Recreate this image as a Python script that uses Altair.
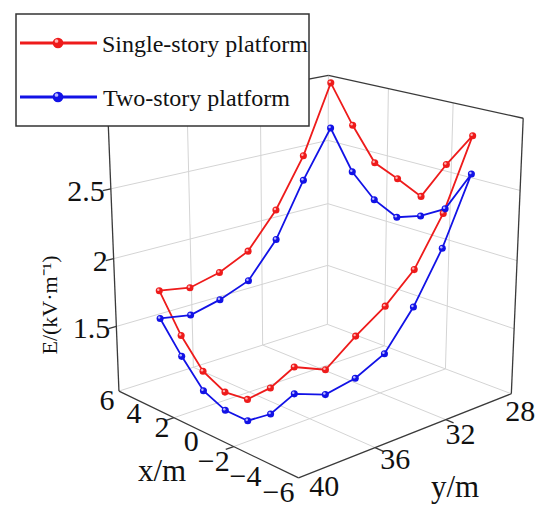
import numpy as np
import pandas as pd
import altair as alt

# ---------------- data ----------------
series_names = ["Single-story platform", "Two-story platform"]
# measurement path (closed loop around the platform), metres
path_x = [3.17, 3.17, 3.17, 3.17, 3.17, 3.17,
          3.17, 1.73, 0.30, -1.13, -2.57, -4.00,
          -5.43, -5.43, -5.43, -5.43, -5.43, -5.43,
          -5.43, -4.00, -2.57, -1.13, 0.30, 1.73]
path_y = [39.72, 38.16, 36.60, 35.04, 33.48, 31.92,
          30.35, 30.35, 30.35, 30.35, 30.35, 30.35,
          30.35, 31.91, 33.47, 35.03, 36.59, 38.15,
          39.72, 39.72, 39.72, 39.72, 39.72, 39.72]
E_single = [1.87, 1.83, 1.88, 1.98, 2.23, 2.58, 3.07, 2.80, 2.57, 2.50, 2.42, 2.69,
            2.93, 2.45, 2.12, 1.93, 1.79, 1.63, 1.72, 1.51, 1.36, 1.34, 1.42, 1.61]
E_two = [1.67, 1.63, 1.68, 1.76, 2.01, 2.40, 2.74, 2.46, 2.30, 2.22, 2.28, 2.38,
         2.67, 2.21, 1.86, 1.60, 1.50, 1.46, 1.54, 1.33, 1.21, 1.21, 1.28, 1.46]

x_ticks = [6, 4, 2, 0, -2, -4, -6]
y_ticks = [28, 32, 36, 40]
z_ticks = [1.5, 2, 2.5]
x_grid = [2, -2]
y_grid = [32, 36]
z_grid = [1.5, 2, 2.5]
x_lim = [-6, 6]
y_lim = [28, 40]
z_lim = [1.01, 3.0]

# ---------------- view (perspective camera) ----------------
P0 = [-0.32051, -0.37703, -0.00079, 0.05113]
P1 = [-0.11809, 0.11424, -0.47311, -0.13968]
P2 = [0.04126, -0.03930, -0.01968, 0.69176]

RED = "#ee1b1b"
BLUE = "#1212e6"
RED_HI = "#ffb3b3"
BLUE_HI = "#b8b8ff"
DARK = "#3a3a3a"
GRID = "#d4d4d4"
FONT = "Liberation Serif"


def proj(xe, ye, ze):
    a = f"(({xe})/6)"
    b = f"((({ye})-34)/6)"
    c = f"(({ze})-2)"

    def row(p):
        return f"({p[0]}*{a}+({p[1]})*{b}+({p[2]})*{c}+({p[3]}))"
    w = row(P2)
    return f"300+200*{row(P0)}/{w}", f"300+200*{row(P1)}/{w}"


XS = alt.Scale(domain=[8, 542], nice=False, zero=False)
YS = alt.Scale(domain=[8, 516], nice=False, zero=False, reverse=True)


def X(f):
    return alt.X(f, type="quantitative", scale=XS, axis=None)


def Y(f):
    return alt.Y(f, type="quantitative", scale=YS, axis=None)


def X2(f):
    return alt.X2(f)


def Y2(f):
    return alt.Y2(f)


# ---------------- segments: grid, box edges, ticks ----------------
xmin, xmax = x_lim
ymin, ymax = y_lim
zmin, zmax = z_lim
segs = []  # x0,y0,z0,x1,y1,z1,kind
for z in z_grid:
    segs.append((xmax, ymax, z, xmax, ymin, z, "grid"))
    segs.append((xmax, ymin, z, xmin, ymin, z, "grid"))
for y in y_grid:
    segs.append((xmax, y, zmin, xmax, y, zmax, "grid"))
    segs.append((xmax, y, zmin, xmin, y, zmin, "grid"))
for x in x_grid:
    segs.append((x, ymin, zmin, x, ymin, zmax, "grid"))
    segs.append((x, ymax, zmin, x, ymin, zmin, "grid"))
segs.append((xmax, ymin, zmin, xmax, ymin, zmax, "grid"))
segs.append((xmax, ymax, zmin, xmax, ymin, zmin, "grid"))
segs.append((xmax, ymin, zmin, xmin, ymin, zmin, "grid"))
# dark box edges
segs.append((xmax, ymax, zmin, xmax, ymax, zmax, "edge"))
segs.append((xmin, ymin, zmin, xmin, ymin, zmax, "edge"))
segs.append((xmax, ymax, zmax, xmax, ymin, zmax, "edge"))
segs.append((xmax, ymin, zmax, xmin, ymin, zmax, "edge"))
segs.append((xmax, ymax, zmin, xmin, ymax, zmin, "edge"))
segs.append((xmin, ymax, zmin, xmin, ymin, zmin, "edge"))
# ticks
for x in x_grid:
    segs.append((x, ymax, zmin, x, ymax + 0.4, zmin, "edge"))
for y in y_grid:
    segs.append((xmin, y, zmin, xmin - 0.45, y, zmin, "edge"))
for z in z_ticks:
    segs.append((xmax, ymax, z, xmax, ymax + 0.4, z, "edge"))
seg_df = pd.DataFrame(segs, columns=["x0", "y0", "z0", "x1", "y1", "z1", "kind"])
u0, v0 = proj("datum.x0", "datum.y0", "datum.z0")
u1, v1 = proj("datum.x1", "datum.y1", "datum.z1")
seg_base = alt.Chart(seg_df).transform_calculate(u0=u0, v0=v0, u1=u1, v1=v1)
grid_layer = seg_base.transform_filter("datum.kind=='grid'").mark_rule(
    color=GRID, strokeWidth=1).encode(x=X("u0"), y=Y("v0"), x2=X2("u1"), y2=Y2("v1"))
edge_layer = seg_base.transform_filter("datum.kind=='edge'").mark_rule(
    color=DARK, strokeWidth=1.3).encode(x=X("u0"), y=Y("v0"), x2=X2("u1"), y2=Y2("v1"))

# ---------------- data lines and points ----------------
rows = []
for s, E in zip(series_names, [E_single, E_two]):
    for i in range(len(path_x) + 1):
        k = i % len(path_x)
        rows.append({"series": s, "idx": i, "x": path_x[k], "y": path_y[k], "E": E[k],
                     "pt": i < len(path_x)})
data = pd.DataFrame(rows)
pu, pv = proj("datum.x", "datum.y", "datum.E")
dbase = alt.Chart(data).transform_calculate(pu=pu, pv=pv)
cscale = alt.Scale(domain=series_names, range=[RED, BLUE])
lines = dbase.mark_line(strokeWidth=1.8).encode(
    x=X("pu"), y=Y("pv"), color=alt.Color("series:N", scale=cscale, legend=None),
    detail="series:N", order="idx:Q")
pts = dbase.transform_filter("datum.pt").mark_circle(size=50, opacity=1).encode(
    x=X("pu"), y=Y("pv"), color=alt.Color("series:N", scale=cscale, legend=None))
hi_r = dbase.transform_filter("datum.pt && datum.series=='%s'" % series_names[0]).mark_circle(
    size=6, opacity=1, color=RED_HI, xOffset=-1, yOffset=-1).encode(x=X("pu"), y=Y("pv"))
hi_b = dbase.transform_filter("datum.pt && datum.series=='%s'" % series_names[1]).mark_circle(
    size=6, opacity=1, color=BLUE_HI, xOffset=-1, yOffset=-1).encode(x=X("pu"), y=Y("pv"))

# ---------------- tick labels ----------------
TICK_FS = 30
xl = pd.DataFrame({"v": x_ticks, "t": [str(v).replace("-", "\u2212") for v in x_ticks]})
xu, xv = proj("datum.v", str(ymax), str(zmin))
xl_base = alt.Chart(xl).transform_calculate(lu=xu, lv=xv)
xlab_pos = xl_base.transform_filter("datum.v>=0").mark_text(
    font=FONT, fontSize=TICK_FS, align="center", baseline="middle", dx=-12, dy=10, color="#111").encode(
    x=X("lu"), y=Y("lv"), text="t:N")
xlab_neg = xl_base.transform_filter("datum.v<0").mark_text(
    font=FONT, fontSize=TICK_FS, align="center", baseline="middle", dx=-20, dy=15, color="#111").encode(
    x=X("lu"), y=Y("lv"), text="t:N")

yl = pd.DataFrame({"v": y_ticks, "t": [str(v) for v in y_ticks]})
yu, yv = proj(str(xmin), "datum.v", str(zmin))
ylab = alt.Chart(yl).transform_calculate(
    lu=f"({yu})+9+(datum.v-28)*1.4", lv=f"({yv})+18-(datum.v-28)*0.75").mark_text(
    font=FONT, fontSize=TICK_FS, align="center", baseline="middle", color="#111").encode(
    x=X("lu"), y=Y("lv"), text="t:N")

zl = pd.DataFrame({"v": z_ticks, "t": [("%g" % v) for v in z_ticks]})
zu, zv = proj(str(xmax), str(ymax), "datum.v")
zlab = alt.Chart(zl).transform_calculate(lu=zu, lv=zv).mark_text(
    font=FONT, fontSize=TICK_FS, align="right", baseline="middle", dx=-6, dy=3, color="#111").encode(
    x=X("lu"), y=Y("lv"), text="t:N")

# ---------------- axis titles ----------------
titles = pd.DataFrame({"px": [162, 455], "py": [472, 488], "t": ["x/m", "y/m"]})
title_layer = alt.Chart(titles).mark_text(
    font=FONT, fontSize=31, align="center", baseline="middle", color="#111").encode(
    x=X("px"), y=Y("py"), text="t:N")
ztitle = alt.Chart(pd.DataFrame({"px": [50], "py": [305], "t": ["E/(kV\u00b7m\u207b\u00b9)"]})).mark_text(
    font=FONT, fontSize=22, align="center", baseline="middle", angle=270, color="#111").encode(
    x=X("px"), y=Y("py"), text="t:N")

# ---------------- legend ----------------
leg_box = alt.Chart(pd.DataFrame({"a": [16], "b": [309], "c": [14], "d": [126]})).mark_rect(
    fill="white", stroke="#333", strokeWidth=1.5).encode(
    x=X("a"), x2=X2("b"), y=Y("c"), y2=Y2("d"))
leg = pd.DataFrame({"series": series_names, "ly": [43, 97], "l0": [20, 20], "l1": [97, 97],
                    "mx": [58, 58], "tx": [102, 103]})
leg_lines = alt.Chart(leg).mark_rule(strokeWidth=3).encode(
    x=X("l0"), x2=X2("l1"), y=Y("ly"), color=alt.Color("series:N", scale=cscale, legend=None))
leg_pts = alt.Chart(leg).mark_circle(size=115, opacity=1).encode(
    x=X("mx"), y=Y("ly"), color=alt.Color("series:N", scale=cscale, legend=None))
leg_hi_r = alt.Chart(leg.iloc[[0]]).mark_circle(size=14, opacity=1, color=RED_HI, xOffset=-1.5,
                                                 yOffset=-2).encode(x=X("mx"), y=Y("ly"))
leg_hi_b = alt.Chart(leg.iloc[[1]]).mark_circle(size=14, opacity=1, color=BLUE_HI, xOffset=-1.5,
                                                 yOffset=-2).encode(x=X("mx"), y=Y("ly"))
leg_text = alt.Chart(leg).transform_calculate(tyy="datum.ly+2").mark_text(
    font=FONT, fontSize=24, align="left", baseline="middle", color="#111").encode(
    x=X("tx"), y=Y("tyy"), text="series:N")

chart = alt.layer(
    grid_layer, edge_layer, lines, pts, hi_r, hi_b,
    xlab_pos, xlab_neg, ylab, zlab, title_layer, ztitle,
    leg_box, leg_lines, leg_pts, leg_hi_r, leg_hi_b, leg_text,
).properties(width=534, height=508, padding=0, autosize=alt.AutoSizeParams(type="none")
             ).configure(background="white").configure_view(stroke=None, strokeWidth=0)

chart.save("out.html", embed_options={"renderer": "svg", "actions": False})
